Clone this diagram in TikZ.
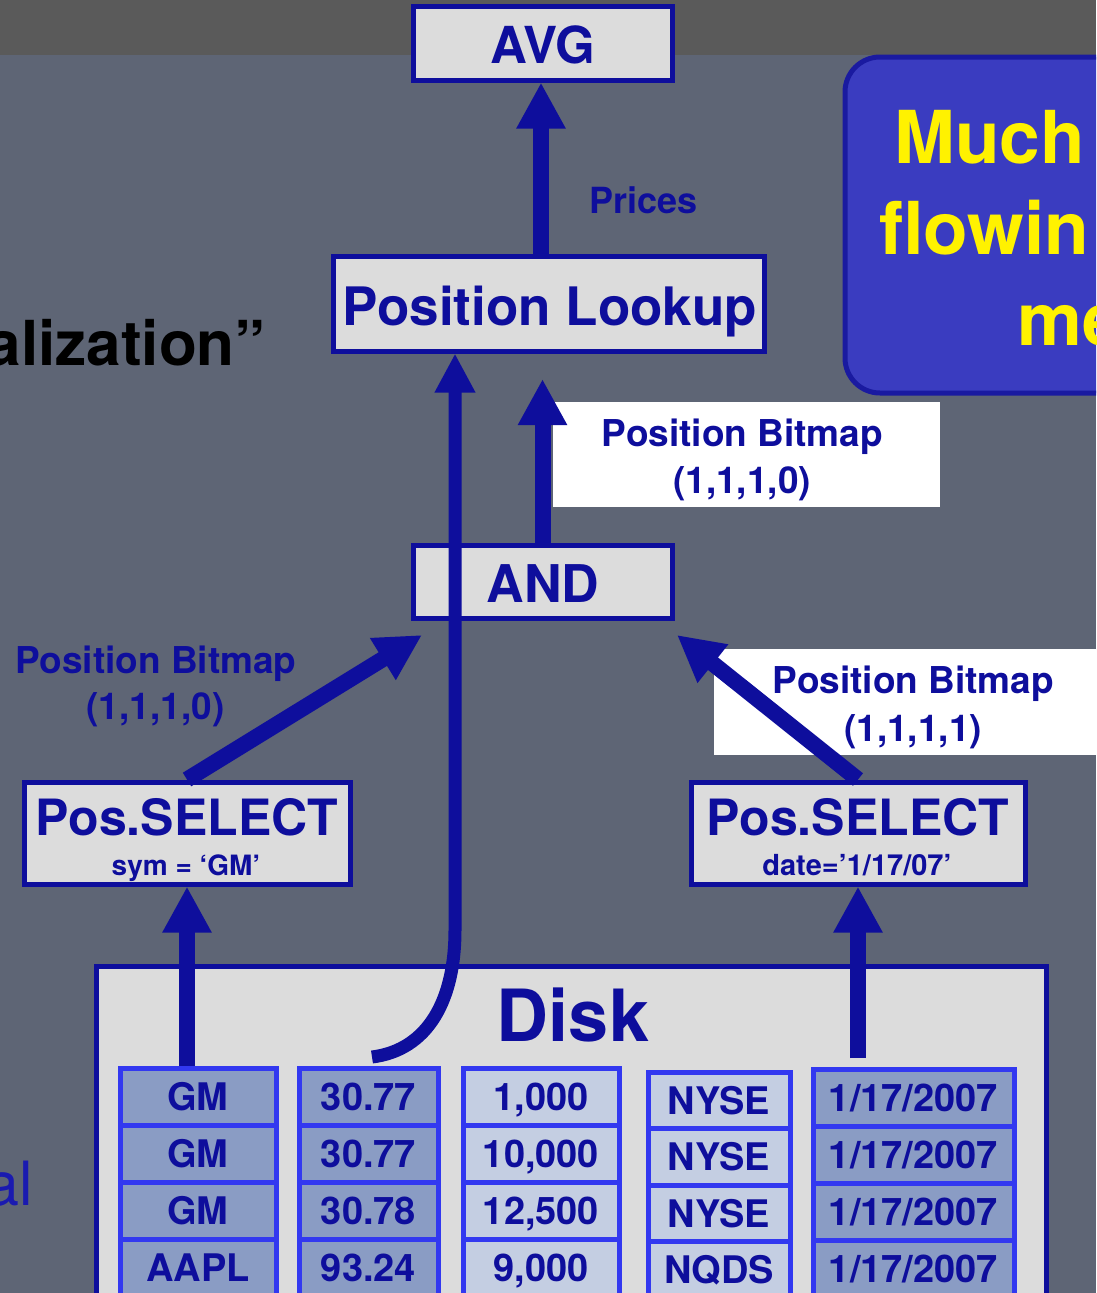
\documentclass[tikz,border=0pt]{standalone}
\usepackage{fontspec}
\setmainfont{TeX Gyre Heros}
\usetikzlibrary{arrows.meta}

\definecolor{navy}{RGB}{14,14,156}
\definecolor{boxgray}{RGB}{220,220,220}
\definecolor{slate}{RGB}{94,101,117}
\definecolor{band}{RGB}{90,90,90}
\definecolor{cellblue}{RGB}{50,56,240}
\definecolor{celldark}{RGB}{138,156,196}
\definecolor{celllight}{RGB}{196,206,226}
\definecolor{notefill}{RGB}{58,60,192}
\definecolor{noteedge}{RGB}{26,26,160}
\definecolor{noteyellow}{RGB}{255,242,0}
\definecolor{sideblue}{RGB}{26,26,176}

\newcommand\setfs[1]{\fontsize{#1}{#1}\selectfont}

\tikzset{
  opbox/.style={draw=navy, line width=5pt, fill=boxgray, inner sep=0pt},
  flow/.style={draw=navy, line width=16pt, -{Triangle[length=46pt,width=46pt]}},
  thinflow/.style={draw=navy, line width=13pt, -{Triangle[length=39pt,width=38pt]}},
  txt/.style={inner sep=0pt, anchor=base, text=navy, font=\bfseries\setfs{#1}},
  cell/.style={draw=cellblue, line width=5pt, inner sep=0pt, text=navy,
    font=\bfseries\setfs{38}, text height=27pt, text depth=0pt},
  notetxt/.style={inner sep=0pt, anchor=base west, text=noteyellow, font=\bfseries\setfs{73}},
  whitelabel/.style={fill=white, inner sep=0pt},
}

\begin{document}
\begin{tikzpicture}[x=1pt,y=-1pt]
\clip (0,0) rectangle (1096,1293);
% backdrop
\fill[slate] (0,0) rectangle (1096,1293);
\fill[band] (0,0) rectangle (1096,55);

% side texts of the slide
\node[inner sep=0pt, anchor=base east, text=black, font=\bfseries\setfs{62}] (sideTitle) at (266,365) {alization”};
\node[inner sep=0pt, anchor=base east, text=sideblue, font=\setfs{61}] (sideNote) at (33,1205) {al};

% call-out box
\node[draw=noteedge, fill=notefill, line width=5pt, rounded corners=35pt,
      minimum width=320pt, minimum height=336pt, inner sep=0pt] (note) at (1005,225) {};
\node[notetxt] (noteA) at (894,163) {Much};
\node[notetxt] (noteB) at (879,254) {flowin};
\node[notetxt] (noteC) at (1017,345) {me};

% operator boxes
\node[opbox, minimum width=259pt, minimum height=74pt] (avg) at (542.5,43) {};
\node[opbox, minimum width=431pt, minimum height=95pt] (pl) at (548.5,303.5) {};
\node[opbox, minimum width=259pt, minimum height=73pt] (and) at (542.5,581.5) {};
\node[opbox, minimum width=326pt, minimum height=102pt] (selL) at (187,833) {};
\node[opbox, minimum width=334pt, minimum height=102pt] (selR) at (858,833) {};

% disk with its columns
\node[opbox, minimum width=950pt, minimum height=360pt] (disk) at (571,1146) {};
\node[txt=72] (diskT) at (573,1041) {Disk};

\foreach \r/\t in {0/GM,1/GM,2/GM,3/AAPL}
  \node[cell, fill=celldark, minimum width=156pt, minimum height=57pt] (sym\r) at (198,1096.5+57*\r) {\t};
\foreach \r/\t in {0/30.77,1/30.77,2/30.78,3/93.24}
  \node[cell, fill=celldark, minimum width=139pt, minimum height=57pt] (price\r) at (368.5,1096.5+57*\r) {\t};
\foreach \r/\t in {0/{1,000},1/{10,000},2/{12,500},3/{9,000}}
  \node[cell, fill=celllight, minimum width=156pt, minimum height=57pt] (qty\r) at (541,1096.5+57*\r) {\t};
\foreach \r/\t in {0/NYSE,1/NYSE,2/NYSE,3/NQDS}
  \node[cell, fill=celllight, minimum width=142pt, minimum height=56.5pt] (exch\r) at (719,1100.5+56.5*\r) {\t};
\foreach \r in {0,1,2,3}
  \node[cell, fill=celldark, minimum width=201pt, minimum height=57pt] (date\r) at (913.5,1097.5+57*\r) {1/17/2007};

% white label panels
\node[whitelabel, minimum width=387pt, minimum height=105pt] (bmTop) at (746.5,454.5) {};
\node[whitelabel, minimum width=400pt, minimum height=106pt] (bmRight) at (914,702) {};

% data flow
\coordinate (priceTap) at (372,1057);
\coordinate (dateTap) at (858,1058);
\coordinate (andInL) at (422,635);
\coordinate (andInR) at (677,635);

\draw[flow] (pl.north -| 541,0) -- (avg.south -| 541,0);
\draw[flow, shorten >=25.5pt] (and.north) -- (and.north |- pl.south);
\draw[flow] (selL.north) -- (andInL);
\draw[flow] (selR.north) -- (andInR);
\draw[flow] (selL.south |- sym0.north) -- (selL.south);
\draw[flow] (dateTap) -- (selR.south);
\draw[thinflow] (priceTap) .. controls (428,1050) and (455,1000) .. (455,930) -- (pl.south -| 455,0);

% texts
\node[txt=51] (avgT) at (543,63) {AVG};
\node[txt=53] (plT) at (550,325) {Position Lookup};
\node[txt=52] (andT) at (543,602) {AND};
\node[txt=50] (selLT) at (187,835) {Pos.SELECT};
\node[txt=28] (selLS) at (186,875) {sym = ‘GM’};
\node[txt=50] (selRT) at (858,835) {Pos.SELECT};
\node[txt=29] (selRS) at (857,875) {date=’1/17/07’};

\node[txt=36] (pricesT) at (643.5,213) {Prices};
\node[txt=37] (bmTopA) at (742.5,446) {Position Bitmap};
\node[txt=37] (bmTopB) at (742,493) {(1,1,1,0)};
\node[txt=37] (bmLeftA) at (156,673) {Position Bitmap};
\node[txt=37] (bmLeftB) at (155.5,719) {(1,1,1,0)};
\node[txt=37] (bmRightA) at (913.5,693) {Position Bitmap};
\node[txt=37] (bmRightB) at (913,741) {(1,1,1,1)};
\end{tikzpicture}
\end{document}
